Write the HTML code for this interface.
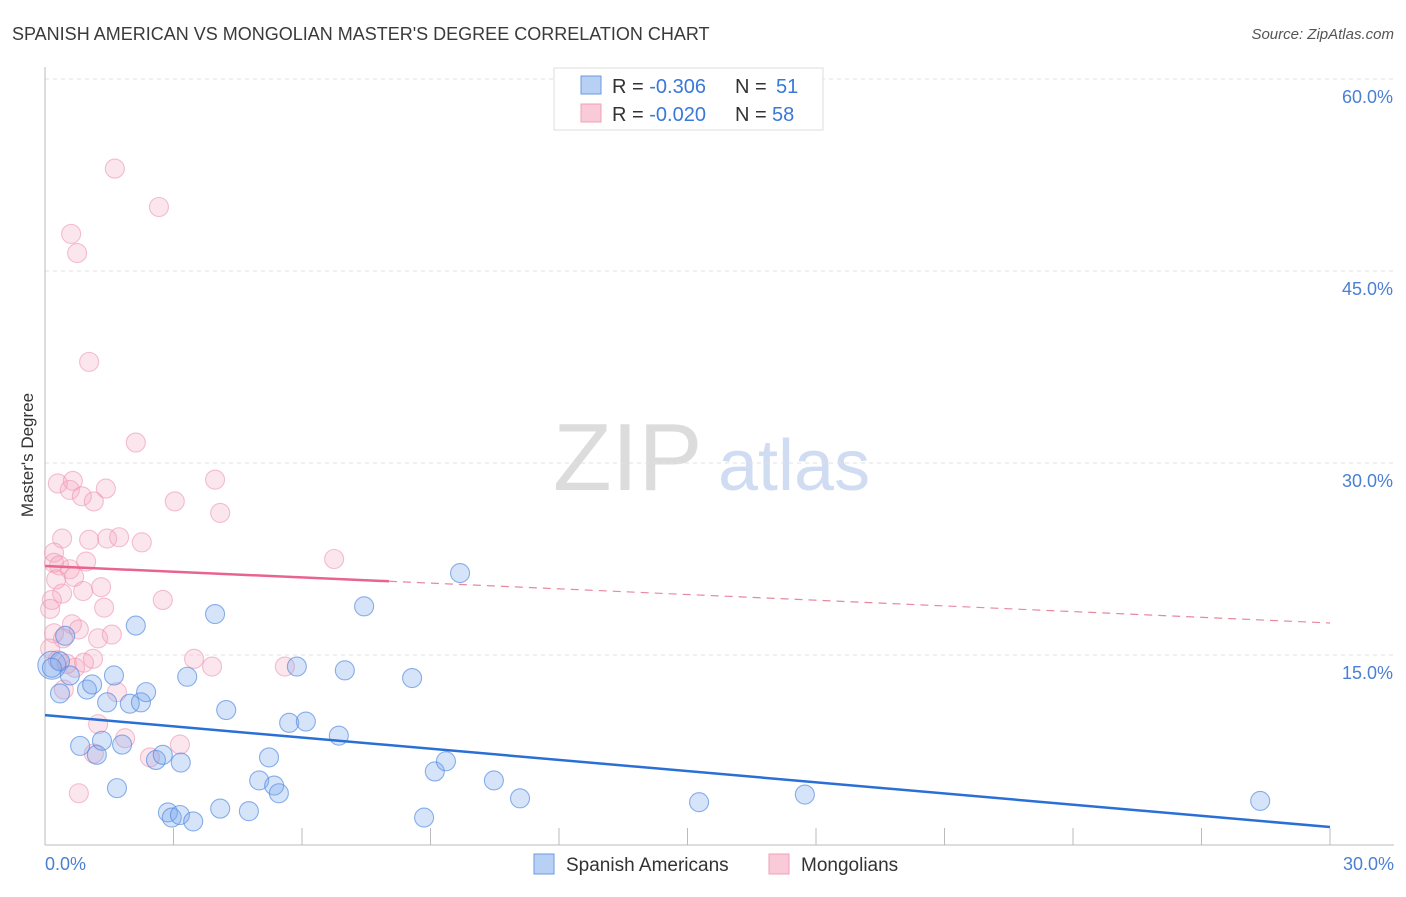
<!DOCTYPE html>
<html><head><meta charset="utf-8"><style>
body{margin:0;background:#fff;font-family:"Liberation Sans",sans-serif;}
svg text{font-family:"Liberation Sans",sans-serif;}
</style></head><body>
<svg id="chart" width="1406" height="892" xmlns="http://www.w3.org/2000/svg">
<text x="12" y="40" font-size="18" fill="#3a3a3a">SPANISH AMERICAN VS MONGOLIAN MASTER'S DEGREE CORRELATION CHART</text>
<text x="1394" y="39" font-size="15" fill="#555" font-style="italic" text-anchor="end">Source: ZipAtlas.com</text>
<text transform="translate(33,455) rotate(-90)" font-size="17" fill="#333" text-anchor="middle">Master's Degree</text>
<g><text x="553" y="490" font-size="96" fill="#dcdcdc" font-family="Liberation Serif,serif">ZIP</text><text x="718" y="490" font-size="72" fill="#cfdcf2">atlas</text></g>
<g id="grid"></g><g id="axes"></g><g id="pts"></g><g id="trend"></g>
<g>
<rect x="554" y="68" width="269" height="62" fill="#fff" stroke="#ddd"/>
<rect x="581" y="76" width="20" height="18" fill="#b8d0f4" stroke="#6a9ae0"/>
<rect x="581" y="104" width="20" height="18" fill="#f9cad8" stroke="#eea0b8"/>
<text x="612" y="93" font-size="20" fill="#333">R = <tspan fill="#3a78d8">-0.306</tspan></text>
<text x="735" y="93" font-size="20" fill="#333">N = <tspan x="776" fill="#3a78d8">51</tspan></text>
<text x="612" y="121" font-size="20" fill="#333">R = <tspan fill="#3a78d8">-0.020</tspan></text>
<text x="735" y="121" font-size="20" fill="#333">N = <tspan x="772" fill="#3a78d8">58</tspan></text>
</g>
<g>
<rect x="534" y="854" width="20" height="20" fill="#b8d0f4" stroke="#6a9ae0"/>
<text x="566" y="871" font-size="19" fill="#333">Spanish Americans</text>
<rect x="769" y="854" width="20" height="20" fill="#f9cad8" stroke="#eea0b8"/>
<text x="801" y="871" font-size="19" fill="#333">Mongolians</text>
</g>
</svg>
<script>
const yTicks=[15,30,45,60];
const xTickLabels=["0.0%","30.0%"];
const blueX=[0.16,0.35,0.16,0.35,0.47,0.58,0.82,0.98,1.10,1.21,1.33,1.45,1.61,1.68,1.80,1.98,2.12,2.24,2.36,2.59,2.75,2.87,2.96,3.15,3.17,3.32,3.46,3.97,4.09,4.23,4.76,5.00,5.23,5.35,5.46,5.70,5.88,6.09,6.86,7.00,7.45,8.57,8.85,9.10,9.36,9.69,10.48,11.09,15.27,17.74,28.37];
const blueY=[14.2,14.5,14.0,12.0,16.5,13.4,7.9,12.3,12.7,7.2,8.3,11.3,13.4,4.6,8.0,11.2,17.3,11.3,12.1,6.8,7.2,2.7,2.3,2.5,6.6,13.3,2.0,18.2,3.0,10.7,2.8,5.2,7.0,4.8,4.2,9.7,14.1,9.8,8.7,13.8,18.8,13.2,2.3,5.9,6.7,21.4,5.2,3.8,3.5,4.1,3.6];
const pinkX=[1.63,2.66,0.61,0.75,1.03,2.12,0.30,0.65,0.58,0.86,1.14,1.42,3.03,3.97,4.09,0.40,1.03,1.45,1.73,2.26,6.75,0.21,0.21,0.33,0.58,0.96,0.26,0.68,0.40,0.16,1.31,0.89,0.12,2.75,1.38,0.21,0.63,0.79,1.24,1.56,0.42,0.70,0.91,1.12,3.48,3.90,5.60,0.44,1.68,1.24,1.87,3.15,2.45,1.14,0.79,0.12,0.30,0.51];
const pinkY=[53.0,50.0,47.9,46.4,37.9,31.6,28.4,28.6,27.9,27.4,27.0,28.0,27.0,28.7,26.1,24.1,24.0,24.1,24.2,23.8,22.5,23.0,22.2,22.0,21.7,22.3,20.9,21.1,19.8,19.3,20.3,20.0,18.6,19.3,18.7,16.7,17.4,17.0,16.3,16.6,16.3,14.0,14.4,14.7,14.7,14.1,14.1,12.3,12.1,9.6,8.5,8.0,7.0,7.3,4.2,15.5,14.6,14.3];
const blueTrend=[10.3,1.56];
const pinkTrend=[21.95,17.5];
const pinkSolidEnd=8.03;
const NS="http://www.w3.org/2000/svg";
const X=v=>45+v/30*1285, Y=v=>847-v/15*192;
function mk(tag,attrs,parent){const e=document.createElementNS(NS,tag);for(const k in attrs)e.setAttribute(k,attrs[k]);document.getElementById(parent).appendChild(e);return e;}
yTicks.forEach(t=>{
 const l=mk('line',{x1:45,x2:1394,y1:Y(t),y2:Y(t),stroke:'#e2e2e2','stroke-dasharray':'4,4'},'grid');
 
 
 const tx=mk('text',{x:1393,y:Y(t)+24,'font-size':18,fill:'#4a7fd4','text-anchor':'end'},'grid');
 tx.textContent=t.toFixed(1)+'%';
 
 
});
let ax=mk('line',{x1:45,x2:45,y1:67,y2:845,stroke:'#bbb'},'axes');


ax=mk('line',{x1:45,x2:1394,y1:845,y2:845,stroke:'#bbb'},'axes');


for(let i=1;i<=10;i++){const t=mk('line',{x1:X(i*3),x2:X(i*3),y1:828,y2:845,stroke:'#bbb'},'axes');
 
 }
let xl=mk('text',{x:45,y:870,'font-size':18,fill:'#4a7fd4'},'axes');xl.textContent=xTickLabels[0];


xl=mk('text',{x:1394,y:870,'font-size':18,fill:'#4a7fd4','text-anchor':'end'},'axes');xl.textContent=xTickLabels[1];


pinkX.forEach((v,i)=>{const c=mk('circle',{cx:X(v),cy:Y(pinkY[i]),r:9.5,fill:'rgba(244,165,192,0.28)',stroke:'rgba(236,150,178,0.6)','stroke-width':1.1},'pts');
 
 });
blueX.forEach((v,i)=>{const c=mk('circle',{cx:X(v),cy:Y(blueY[i]),r:i==0?14:9.5,fill:'rgba(120,165,235,0.3)',stroke:'rgba(80,135,225,0.65)','stroke-width':1.1},'pts');
 
 });
let t=mk('line',{x1:X(0),y1:Y(blueTrend[0]),x2:X(30),y2:Y(blueTrend[1]),stroke:'#2a6fd6','stroke-width':2.5},'trend');


const pAt=v=>pinkTrend[0]+(pinkTrend[1]-pinkTrend[0])*v/30;
t=mk('line',{x1:X(0),y1:Y(pinkTrend[0]),x2:X(pinkSolidEnd),y2:Y(pAt(pinkSolidEnd)),stroke:'#e8648e','stroke-width':2.5},'trend');


t=mk('line',{x1:X(pinkSolidEnd),y1:Y(pAt(pinkSolidEnd)),x2:X(30),y2:Y(pinkTrend[1]),stroke:'#e8889f','stroke-width':1.2,'stroke-dasharray':'8,6'},'trend');


</script>
</body></html>
